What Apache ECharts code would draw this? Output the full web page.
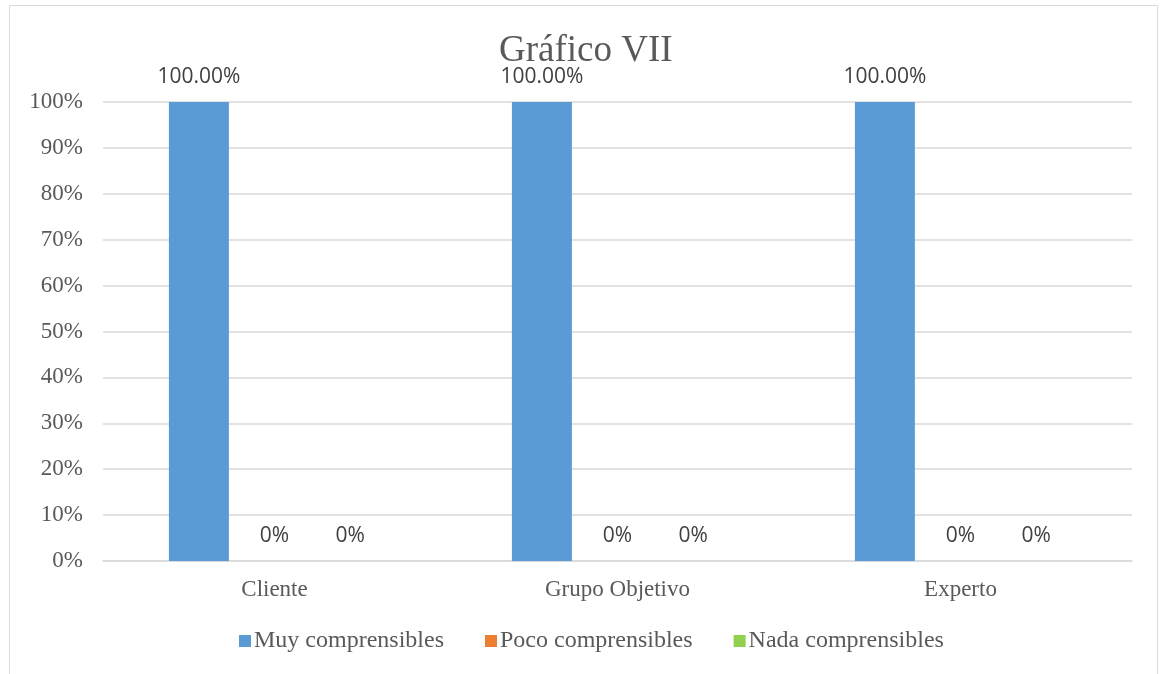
<!DOCTYPE html>
<html>
<head>
<meta charset="utf-8">
<script src="https://cdn.jsdelivr.net/npm/echarts@6/dist/echarts.min.js"></script>
<style>
  html, body { margin: 0; padding: 0; background: #ffffff; }
  #chart { width: 1160px; height: 674px; }
</style>
</head>
<body>
<div id="chart"></div>
<script>
// Categories and series values (percent)
const categories = ['Cliente', 'Grupo Objetivo', 'Experto'];
const seriesNames = ['Muy comprensibles', 'Poco comprensibles', 'Nada comprensibles'];
const muyValues = [100, 100, 100];
const pocoValues = [0, 0, 0];
const nadaValues = [0, 0, 0];
const colors = ['#5B9BD5', '#ED7D31', '#92D050'];

const serif = '"Liberation Serif", "Times New Roman", serif';
const sans = '"Open Sans", "Liberation Sans", sans-serif';

function labelText(p) {
  return p.value === 0 ? '0%' : p.value.toFixed(2) + '%';
}

function makeSeries(name, values, color) {
  return {
    name: name,
    type: 'bar',
    data: values,
    barWidth: 60,
    barGap: '26%',
    itemStyle: { color: color },
    label: {
      show: true,
      position: 'top',
      distance: 14,
      formatter: labelText,
      fontFamily: sans,
      fontSize: 21,
      color: '#404040'
    }
  };
}

const chart = echarts.init(document.getElementById('chart'), null, { renderer: 'canvas' });
chart.setOption({
  animation: false,
  backgroundColor: '#ffffff',
  color: colors,
  title: {
    text: 'Gráfico VII',
    left: 494,
    top: 28,
    textStyle: { fontFamily: serif, fontSize: 37, fontWeight: 'normal', color: '#595959' }
  },
  graphic: [{
    type: 'rect',
    shape: { x: 9.5, y: 5.5, width: 1148, height: 720 },
    style: { fill: 'none', stroke: '#D9D9D9', lineWidth: 1 },
    silent: true
  }],
  legend: {
    data: seriesNames,
    bottom: 16,
    left: 234,
    icon: 'rect',
    itemWidth: 12,
    itemHeight: 12,
    itemGap: 41,
    textStyle: { fontFamily: serif, fontSize: 24, color: '#595959', padding: [0, 0, 0, -2] }
  },
  grid: { left: 103, right: 28, top: 102, bottom: 113, containLabel: false },
  xAxis: {
    type: 'category',
    data: categories,
    axisTick: { show: false },
    axisLine: { lineStyle: { color: '#D9D9D9', width: 1.5 } },
    axisLabel: { fontFamily: serif, fontSize: 23, color: '#595959', margin: 17 }
  },
  yAxis: {
    type: 'value',
    min: 0,
    max: 100,
    interval: 10,
    axisLine: { show: false },
    axisTick: { show: false },
    splitLine: { lineStyle: { color: '#D9D9D9', width: 1.5 } },
    axisLabel: { fontFamily: serif, fontSize: 23, color: '#595959', margin: 20, formatter: '{value}%' }
  },
  series: [
    makeSeries(seriesNames[0], muyValues, colors[0]),
    makeSeries(seriesNames[1], pocoValues, colors[1]),
    makeSeries(seriesNames[2], nadaValues, colors[2])
  ]
});
</script>
</body>
</html>
